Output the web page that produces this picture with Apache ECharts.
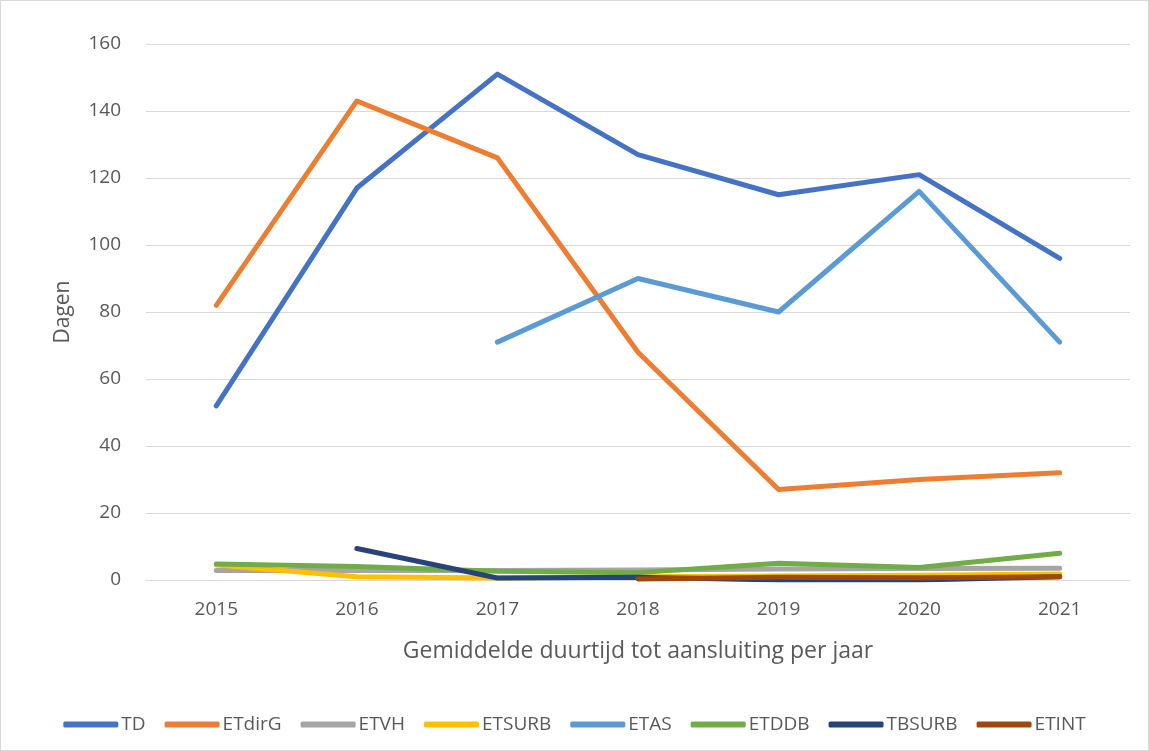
<!DOCTYPE html>
<html>
<head>
<meta charset="utf-8">
<script src="https://cdn.jsdelivr.net/npm/echarts@6/dist/echarts.min.js"></script>
<style>
  html, body { margin: 0; padding: 0; background: #fff; }
  #chart { width: 1147px; height: 749px; border: 1px solid #d9d9d9; }
</style>
</head>
<body>
<div id="chart"></div>
<script>
const years = ['2015', '2016', '2017', '2018', '2019', '2020', '2021'];
const seriesNames = ['TD', 'ETdirG', 'ETVH', 'ETSURB', 'ETAS', 'ETDDB', 'TBSURB', 'ETINT'];
const colors = ['#4472C4', '#ED7D31', '#A5A5A5', '#FFC000', '#5B9BD5', '#70AD47', '#264478', '#9E480E'];

const td = [52, 117, 151, 127, 115, 121, 96];
const etdirg = [82, 143, 126, 68, 27, 30, 32];
const etvh = [2.8, 2.8, 2.8, 3, 3.3, 3.4, 3.5];
const etsurb = [4.5, 1, 0.6, 1, 1.2, 1.4, 1.8];
const etas = [null, null, 71, 90, 80, 116, 71];
const etddb = [4.8, 4, 2.6, 2.2, 5, 3.7, 8];
const tbsurb = [null, 9.4, 0.6, 0.8, 0, 0, 1];
const etint = [null, null, null, 0.3, 0.8, 0.7, 1];

const values = [td, etdirg, etvh, etsurb, etas, etddb, tbsurb, etint];

const chart = echarts.init(document.getElementById('chart'));

const fontFam = '"Open Sans", sans-serif';

const option = {
    animation: false,
    color: colors,
    grid: {
        left: 145,
        right: 18,
        top: 43,
        bottom: 170
    },
    legend: {
        data: seriesNames,
        top: 709,
        left: 'center',
        itemWidth: 55,
        itemHeight: 6,
        itemGap: 19,
        icon: 'roundRect',
        textStyle: { color: '#595959', fontSize: 19, fontFamily: fontFam, padding: [0, 0, 0, -2] }
    },
    xAxis: {
        type: 'category',
        data: years,
        boundaryGap: true,
        axisTick: { show: false },
        axisLine: { lineStyle: { color: '#d9d9d9', width: 1 } },
        axisLabel: { color: '#595959', fontSize: 19, fontFamily: fontFam, margin: 20 },
        name: 'Gemiddelde duurtijd tot aansluiting per jaar',
        nameLocation: 'middle',
        nameGap: 60,
        nameTextStyle: { color: '#595959', fontSize: 23, fontFamily: fontFam }
    },
    yAxis: {
        type: 'value',
        min: 0,
        max: 160,
        interval: 20,
        axisLine: { show: false },
        axisTick: { show: false },
        splitLine: { lineStyle: { color: '#d9d9d9', width: 1 } },
        axisLabel: { color: '#595959', fontSize: 19, fontFamily: fontFam, margin: 25 },
        name: 'Dagen',
        nameLocation: 'middle',
        nameGap: 72,
        nameRotate: 90,
        nameTextStyle: { color: '#595959', fontSize: 21, fontFamily: fontFam }
    },
    series: seriesNames.map((name, i) => ({
        name: name,
        type: 'line',
        data: values[i],
        symbol: 'none',
        connectNulls: false,
        lineStyle: { width: 5, cap: 'round', join: 'round' }
    }))
};

chart.setOption(option);
window.addEventListener('resize', function () { chart.resize(); });
</script>
</body>
</html>
